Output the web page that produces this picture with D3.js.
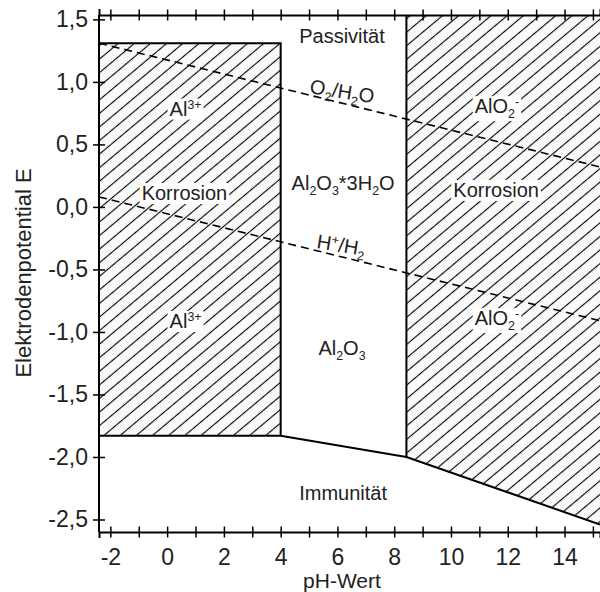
<!DOCTYPE html>
<html>
<head>
<meta charset="utf-8">
<script src="https://cdn.jsdelivr.net/npm/d3@7"></script>
<style>
  body { margin: 0; background: #fff; }
  svg { display: block; font-family: "Liberation Sans", Arial, sans-serif; }
</style>
</head>
<body>
<div id="chart"></div>
<script>
// tick values
var xTicks = [-2, -1, 0, 1, 2, 3, 4, 5, 6, 7, 8, 9, 10, 11, 12, 13, 14, 15];
var xLabels = [-2, 0, 2, 4, 6, 8, 10, 12, 14];
var yTicks = [1.5, 1.0, 0.5, 0.0, -0.5, -1.0, -1.5, -2.0, -2.5];

// region boundaries [pH, E]
var corrosionAcid = [[-2.4, 1.31], [4, 1.31], [4, -1.83], [-2.4, -1.83]];
var corrosionAlk = [[8.43, 1.535], [15.25, 1.535], [15.25, -2.54], [8.43, -2.0]];
var alkEdge = [[8.43, 1.535], [8.43, -2.0], [15.25, -2.54]];
var immunityLine = [[4, -1.83], [8.43, -2.0]];
var o2Line = [[-2.4, 1.31], [15.25, 0.32]];
var h2Line = [[-2.4, 0.08], [15.25, -0.91]];

// labels: [pH, E, parts, boxed]
var labels = [
    [0.65, 0.73, [["Al"], ["3+", "sup"]], true],
    [0.61, 0.055, [["Korrosion"]], true],
    [0.65, -0.968, [["Al"], ["3+", "sup"]], true],
    [6.16, 1.31, [["Passivität"]], false],
    [6.2, 0.135, [["Al"], ["2", "sub"], ["O"], ["3", "sub"], ["*3H"], ["2", "sub"], ["O"]], false],
    [6.16, -1.184, [["Al"], ["2", "sub"], ["O"], ["3", "sub"]], false],
    [6.2, -2.344, [["Immunität"]], false],
    [11.62, 0.75, [["AlO"], ["2", "sub"], ["-", "sup"]], true],
    [11.59, 0.08, [["Korrosion"]], true],
    [11.62, -0.945, [["AlO"], ["2", "sub"], ["-", "sup"]], true]
];
var lineLabels = [
    [6.13, 0.87, [["O"], ["2", "sub"], ["/H"], ["2", "sub"], ["O"]]],
    [6.09, -0.36, [["H"], ["+", "sup"], ["/H"], ["2", "sub"]]]
];

var width = 600,
    height = 592;

var x = d3.scaleLinear().domain([-2.4, 15.25]).range([99, 600]);
var y = d3.scaleLinear().domain([1.535, -2.6]).range([15, 532]);

var svg = d3.select("#chart").append("svg")
    .attr("width", width)
    .attr("height", height);

var defs = svg.append("defs");
var pat = defs.append("pattern")
    .attr("id", "hatch")
    .attr("patternUnits", "userSpaceOnUse")
    .attr("width", 10.4)
    .attr("height", 10.4)
    .attr("patternTransform", "rotate(-40)");
pat.append("rect").attr("width", 10.4).attr("height", 10.4).attr("fill", "#f9f9f9");
pat.append("line")
    .attr("x1", 0).attr("x2", 10.4)
    .attr("y1", 5.2).attr("y2", 5.2)
    .attr("stroke", "#000")
    .attr("stroke-width", 1.1);

var line = d3.line()
    .x(function (d) { return x(d[0]); })
    .y(function (d) { return y(d[1]); });

svg.append("path")
    .attr("d", line(corrosionAcid) + "Z")
    .attr("fill", "url(#hatch)")
    .attr("stroke", "#000")
    .attr("stroke-width", 2);

svg.append("path")
    .attr("d", line(corrosionAlk) + "Z")
    .attr("fill", "url(#hatch)");

svg.append("path")
    .attr("d", line(alkEdge))
    .attr("fill", "none")
    .attr("stroke", "#000")
    .attr("stroke-width", 2);

svg.append("path")
    .attr("d", line(immunityLine))
    .attr("fill", "none")
    .attr("stroke", "#000")
    .attr("stroke-width", 2);

[o2Line, h2Line].forEach(function (l) {
    svg.append("path")
        .attr("d", line(l))
        .attr("fill", "none")
        .attr("stroke", "#000")
        .attr("stroke-width", 1.6)
        .attr("stroke-dasharray", "8,5");
});

function addText(g, parts, size) {
    var t = g.append("text")
        .attr("text-anchor", "middle")
        .attr("font-size", size)
        .attr("fill", "#222");
    var shift = 0;
    parts.forEach(function (p) {
        var s = t.append("tspan").text(p[0]);
        var target = 0;
        if (p[1] == "sub") {
            s.attr("font-size", size * 0.62);
            target = 5;
        } else if (p[1] == "sup") {
            s.attr("font-size", size * 0.62);
            target = -7;
        }
        if (target != shift) s.attr("dy", target - shift);
        shift = target;
    });
    return t;
}

// axes
var xAxis = svg.append("g")
    .attr("transform", "translate(0," + 532 + ")")
    .call(d3.axisBottom(x)
        .tickValues(xTicks)
        .tickSizeOuter(0)
        .tickSize(6)
        .tickPadding(11)
        .tickFormat(function (d) { return xLabels.indexOf(d) >= 0 ? d : ""; }));

var topAxis = svg.append("g")
    .attr("transform", "translate(0," + 15 + ")")
    .call(d3.axisTop(x)
        .tickValues(xTicks)
        .tickSizeOuter(0)
        .tickSize(6)
        .tickFormat(""));

var yAxis = svg.append("g")
    .attr("transform", "translate(" + 99 + ",0)")
    .call(d3.axisLeft(y)
        .tickValues(yTicks)
        .tickSizeOuter(0)
        .tickSize(6)
        .tickPadding(5)
        .tickFormat(function (d) { return d3.format(".1f")(d).replace(".", ",").replace("−", "-"); }));

[xAxis, topAxis].forEach(function (a) {
    a.selectAll(".tick line").attr("y1", -5.5).attr("y2", 5.5);
});
yAxis.selectAll(".tick line").attr("x1", -6).attr("x2", 6);

svg.selectAll(".domain").attr("stroke-width", 2);
svg.selectAll(".tick line").attr("stroke-width", 1.5);
svg.selectAll(".tick text")
    .attr("font-family", "Liberation Sans, Arial, sans-serif")
    .attr("font-size", 23)
    .attr("fill", "#222");
// y axis domain spans whole plot height
yAxis.select(".domain").attr("d", "M0," + 15 + "V" + 532);

// region labels
labels.forEach(function (d) {
    var g = svg.append("g")
        .attr("transform", "translate(" + x(d[0]) + "," + y(d[1]) + ")");
    var t = addText(g, d[2], 20);
    if (d[3]) {
        var b = t.node().getBBox();
        g.insert("rect", "text")
            .attr("x", b.x - 2)
            .attr("y", b.y + 1)
            .attr("width", b.width + 4)
            .attr("height", b.height - 1)
            .attr("fill", "#fff");
    }
});

var slope = Math.atan2(y(o2Line[1][1]) - y(o2Line[0][1]), x(o2Line[1][0]) - x(o2Line[0][0])) * 180 / Math.PI;
lineLabels.forEach(function (d) {
    var g = svg.append("g")
        .attr("transform", "translate(" + x(d[0]) + "," + y(d[1]) + ")rotate(" + slope * 0.65 + ")");
    addText(g, d[2], 20);
});

// axis titles
svg.append("text")
    .attr("x", 342)
    .attr("y", 588)
    .attr("text-anchor", "middle")
    .attr("font-size", 21)
    .attr("fill", "#222")
    .text("pH-Wert");

svg.append("text")
    .attr("transform", "translate(31,273)rotate(-90)")
    .attr("text-anchor", "middle")
    .attr("font-size", 22)
    .attr("fill", "#222")
    .text("Elektrodenpotential E");
</script>
</body>
</html>
